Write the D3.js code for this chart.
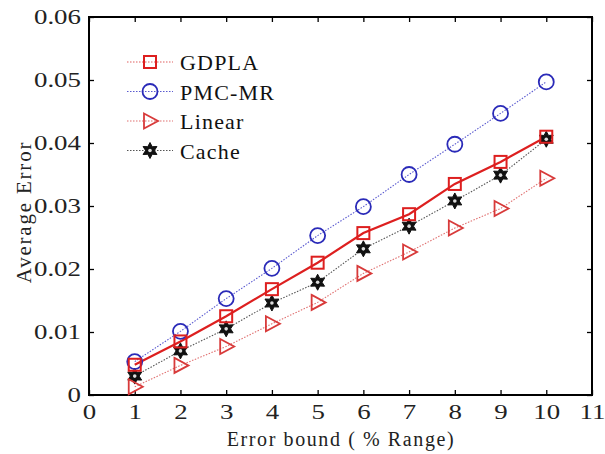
<!DOCTYPE html>
<html>
<head>
<meta charset="utf-8">
<script src="https://cdn.jsdelivr.net/npm/d3@7"></script>
<style>
  body { margin: 0; background: #fff; }
  svg { display: block; }
  svg text { font-family: 'Liberation Serif', 'Times New Roman', serif; }
</style>
</head>
<body>
<svg id="chart" width="605" height="454"></svg>
<script>
// Error bound (% of range)
const bounds = [1, 2, 3, 4, 5, 6, 7, 8, 9, 10];
const gdpla  = [0.0048, 0.0085, 0.0125, 0.0168, 0.0210, 0.0257, 0.0287, 0.0335, 0.0370, 0.0410];
const pmcmr  = [0.0053, 0.0101, 0.0153, 0.0201, 0.0253, 0.0299, 0.0350, 0.0398, 0.0447, 0.0497];
const linear = [0.0013, 0.0047, 0.0077, 0.0113, 0.0147, 0.0193, 0.0227, 0.0265, 0.0296, 0.0344];
const cache  = [0.0030, 0.0070, 0.0105, 0.0146, 0.0179, 0.0232, 0.0268, 0.0308, 0.0349, 0.0406];
const xTicks = [0, 1, 2, 3, 4, 5, 6, 7, 8, 9, 10, 11];
const yTicks = [0, 0.01, 0.02, 0.03, 0.04, 0.05, 0.06];
const seriesNames = ["GDPLA", "PMC-MR", "Linear", "Cache"];

const FONT = "'Liberation Serif', 'Times New Roman', serif";
const svg = d3.select("#chart");
const L = 89, R = 592, T = 17, B = 395;
const x = d3.scaleLinear().domain([0, 11]).range([L, R]);
const y = d3.scaleLinear().domain([0, 0.06]).range([B, T]);

const series = [
  { name: seriesNames[0], values: gdpla,  color: "#dd1f1f", width: 2.2, dash: null,      lcolor: "#e06060", marker: "square" },
  { name: seriesNames[1], values: pmcmr,  color: "#2a2ab8", width: 1.1, dash: "1.5,1.5", lcolor: "#5a5ad0", marker: "circle" },
  { name: seriesNames[2], values: linear, color: "#d83a3a", width: 1.1, dash: "1.5,1.5", lcolor: "#e07070", marker: "triangle" },
  { name: seriesNames[3], values: cache,  color: "#111",    width: 1.1, dash: "1.5,1.5", lcolor: "#555",    marker: "hexagram" }
];

// Six-pointed star path centred on the origin
function hexagram(r) {
  const a = d3.range(12).map(i => {
    const rr = i % 2 === 0 ? r : r * 0.55;
    const ang = -Math.PI / 2 + i * Math.PI / 6;
    return [rr * Math.cos(ang), rr * Math.sin(ang)];
  });
  return "M" + a.map(p => p.join(",")).join("L") + "Z";
}

function drawMarker(g, type, color) {
  if (type === "square") {
    g.append("rect").attr("x", -6).attr("y", -6).attr("width", 12).attr("height", 12)
      .attr("fill", "none").attr("stroke", color).attr("stroke-width", 2);
  } else if (type === "circle") {
    g.append("circle").attr("r", 7.5).attr("fill", "none").attr("stroke", color).attr("stroke-width", 1.8);
  } else if (type === "triangle") {
    g.append("path").attr("d", "M-6,-7.5L8,0L-6,7.5Z")
      .attr("fill", "none").attr("stroke", color).attr("stroke-width", 1.8);
  } else if (type === "hexagram") {
    g.append("path").attr("d", hexagram(8)).attr("fill", color).attr("stroke", color).attr("stroke-width", 1);
    g.append("circle").attr("r", 1.8).attr("fill", "#ddd");
  }
}

// Axes on all four sides, ticks pointing inward
const bottomAxis = d3.axisBottom(x).tickValues(xTicks).tickSizeInner(-5).tickSizeOuter(0).tickPadding(9).tickFormat(d3.format("d"));
const topAxis = d3.axisTop(x).tickValues(xTicks).tickSizeInner(-5).tickSizeOuter(0).tickFormat("");
const leftAxis = d3.axisLeft(y).tickValues(yTicks).tickSizeInner(-5).tickSizeOuter(0).tickPadding(8).tickFormat(d => d === 0 ? "0" : d3.format(".2f")(d));
const rightAxis = d3.axisRight(y).tickValues(yTicks).tickSizeInner(-5).tickSizeOuter(0).tickFormat("");

// tick labels are set in a wide serif: stretch glyphs horizontally around their anchor
function styleAxis(g) {
  g.attr("font-family", null);
  g.select(".domain").remove();
  g.selectAll(".tick line").attr("stroke", "#000").attr("stroke-width", 1.3);
  g.selectAll(".tick text").each(function () {
    const t = d3.select(this);
    const tx = +t.attr("x") || 0, ty = +t.attr("y") || 0;
    t.attr("x", 0).attr("y", 0)
      .attr("transform", `translate(${tx},${ty}) scale(1.28,1)`)
      .attr("fill", "#222").style("font-size", "21px").style("font-family", FONT);
  });
}

svg.append("g").attr("transform", `translate(0,${B})`).call(bottomAxis).call(styleAxis);
svg.append("g").attr("transform", `translate(0,${T})`).call(topAxis).call(styleAxis);
svg.append("g").attr("transform", `translate(${L},0)`).call(leftAxis).call(styleAxis);
svg.append("g").attr("transform", `translate(${R},0)`).call(rightAxis).call(styleAxis);

svg.append("rect").attr("x", L).attr("y", T).attr("width", R - L).attr("height", B - T)
  .attr("fill", "none").attr("stroke", "#000").attr("stroke-width", 2);

// Series lines and markers
const line = d3.line().x((d, i) => x(bounds[i])).y(d => y(d));
series.forEach(s => {
  svg.append("path").datum(s.values).attr("d", line)
    .attr("fill", "none").attr("stroke", s.dash ? s.lcolor : s.color)
    .attr("stroke-width", s.width).attr("stroke-dasharray", s.dash);
});
series.slice().reverse().forEach(s => {
  s.values.forEach((v, i) => {
    const g = svg.append("g").attr("transform", `translate(${x(bounds[i])},${y(v)})`);
    drawMarker(g, s.marker, s.color);
  });
});

// Axis titles
svg.append("text").attr("x", 341).attr("y", 446).attr("text-anchor", "middle")
  .style("font-family", FONT).style("font-size", "20px").style("letter-spacing", "1.6px")
  .attr("fill", "#222").text("Error bound ( % Range)");
svg.append("text").attr("transform", `translate(31,212) rotate(-90)`)
  .attr("text-anchor", "middle").style("font-family", FONT).style("font-size", "21px")
  .style("letter-spacing", "1.8px").attr("fill", "#222").text("Average Error");

// Legend
const legend = svg.append("g");
series.forEach((s, i) => {
  const yy = 62 + i * 29.5;
  legend.append("line").attr("x1", 127).attr("x2", 173).attr("y1", yy).attr("y2", yy)
    .attr("stroke", s.lcolor).attr("stroke-width", 1.1).attr("stroke-dasharray", "1.5,1.5");
  const g = legend.append("g").attr("transform", `translate(150,${yy})`);
  drawMarker(g, s.marker, s.color);
  legend.append("text").attr("x", 180).attr("y", yy + 8).style("font-family", FONT)
    .style("font-size", "22px").style("letter-spacing", "1.2px").attr("fill", "#111").text(s.name);
});
</script>
</body>
</html>
